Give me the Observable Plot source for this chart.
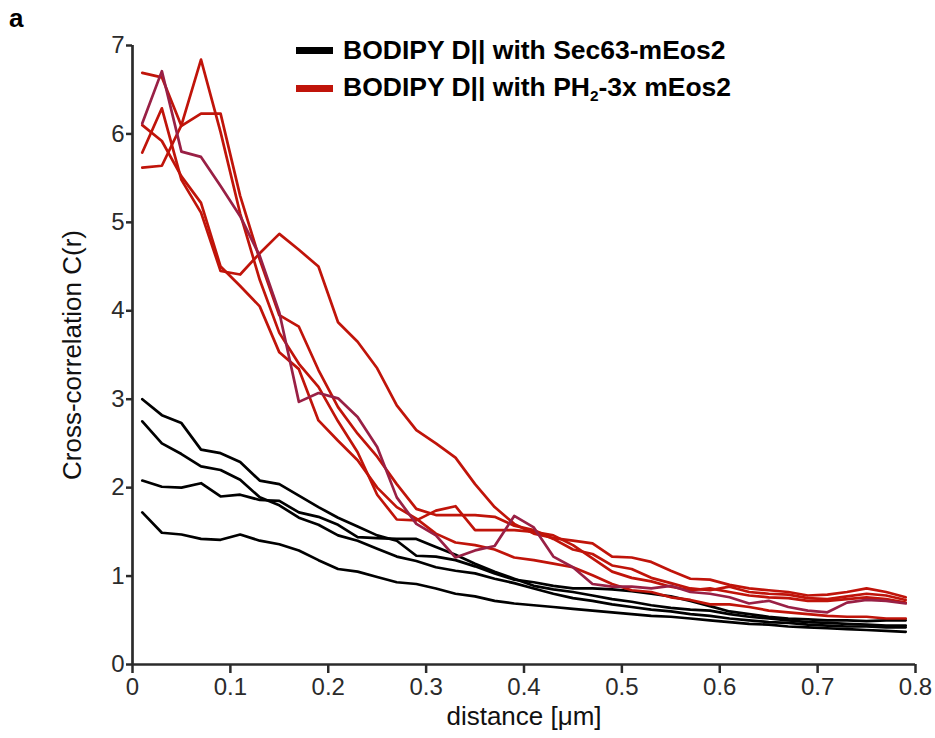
<!DOCTYPE html>
<html><head><meta charset="utf-8">
<script src="https://cdn.jsdelivr.net/npm/d3@7"></script>
<script src="https://cdn.jsdelivr.net/npm/@observablehq/plot@0.6"></script>
<style>
body{margin:0;background:#fff;}
#wrap{position:relative;width:935px;height:738px;font-family:"Liberation Sans",Arial,sans-serif;}
#panel{position:absolute;left:9px;top:3px;font-weight:bold;font-size:26px;color:#000;}
#legend{position:absolute;left:296px;top:31px;font-weight:bold;font-size:26.5px;color:#000;}
.row{display:flex;align-items:center;height:38px;white-space:nowrap;}
.sw{width:37px;height:7px;margin-right:10px;flex:none;}
sub{font-size:58%;vertical-align:-0.3em;}
</style></head>
<body><div id="wrap"><div id="chart"></div><div id="panel">a</div><div id="legend"></div></div>
<script>
// distance axis (µm)
const distance = [0.01,0.03,0.05,0.07,0.09,0.11,0.13,0.15,0.17,0.19,0.21,0.23,0.25,0.27,0.29,0.31,0.33,0.35,0.37,0.39,
                  0.41,0.43,0.45,0.47,0.49,0.51,0.53,0.55,0.57,0.59,0.61,0.63,0.65,0.67,0.69,0.71,0.73,0.75,0.77,0.79];

// BODIPY D|| with Sec63-mEos2 (black)
const sec63_a = [3.00,2.82,2.73,2.43,2.39,2.29,2.08,2.04,1.91,1.78,1.66,1.56,1.46,1.40,1.23,1.22,1.18,1.11,1.03,0.96,
                 0.93,0.89,0.86,0.86,0.85,0.83,0.80,0.77,0.72,0.66,0.60,0.57,0.54,0.52,0.51,0.50,0.50,0.49,0.50,0.50];
const sec63_b = [2.75,2.50,2.38,2.24,2.20,2.09,1.89,1.80,1.66,1.58,1.46,1.40,1.31,1.22,1.17,1.10,1.06,1.03,0.97,0.92,
                 0.86,0.80,0.75,0.72,0.68,0.65,0.62,0.60,0.57,0.55,0.52,0.50,0.48,0.47,0.45,0.44,0.43,0.43,0.42,0.42];
const sec63_c = [2.08,2.01,2.00,2.05,1.90,1.92,1.86,1.85,1.72,1.67,1.58,1.44,1.43,1.42,1.42,1.33,1.24,1.14,1.05,0.97,
                 0.89,0.85,0.82,0.78,0.74,0.71,0.67,0.64,0.62,0.61,0.57,0.54,0.52,0.50,0.48,0.47,0.46,0.45,0.44,0.44];
const sec63_d = [1.72,1.49,1.47,1.42,1.41,1.47,1.40,1.36,1.29,1.18,1.08,1.05,0.99,0.93,0.91,0.86,0.80,0.77,0.72,0.69,
                 0.67,0.65,0.63,0.61,0.59,0.57,0.55,0.54,0.52,0.50,0.48,0.46,0.45,0.43,0.42,0.41,0.40,0.39,0.38,0.37];

// BODIPY D|| with PH2-3x mEos2 (red; one trace in a darker purple-red)
const ph_a = [6.69,6.64,6.09,6.23,6.23,5.30,4.58,3.95,3.82,3.33,2.91,2.61,2.35,2.04,1.76,1.69,1.69,1.69,1.67,1.57,
              1.52,1.42,1.30,1.25,1.12,1.08,0.98,0.92,0.86,0.84,0.88,0.82,0.80,0.79,0.75,0.74,0.77,0.80,0.78,0.73];
const ph_b = [5.62,5.64,6.10,6.84,6.02,5.10,4.35,3.75,3.40,3.14,2.75,2.40,1.92,1.64,1.63,1.74,1.79,1.52,1.52,1.52,
              1.50,1.46,1.35,1.20,1.05,0.98,0.94,0.88,0.84,0.86,0.82,0.78,0.76,0.75,0.72,0.72,0.74,0.76,0.74,0.70];
const ph_c = [6.10,5.92,5.52,5.22,4.50,4.28,4.05,3.53,3.34,2.76,2.53,2.31,2.00,1.78,1.65,1.48,1.38,1.35,1.30,1.21,
              1.18,1.14,1.10,1.01,0.91,0.84,0.82,0.76,0.73,0.68,0.68,0.65,0.61,0.59,0.57,0.55,0.54,0.54,0.52,0.52];
const ph_d = [5.79,6.29,5.48,5.11,4.45,4.41,4.65,4.87,4.69,4.50,3.87,3.65,3.35,2.93,2.65,2.50,2.34,2.04,1.78,1.59,
              1.48,1.43,1.40,1.37,1.22,1.21,1.16,1.06,0.97,0.96,0.90,0.86,0.84,0.82,0.78,0.79,0.82,0.86,0.82,0.76];
const ph_e = [6.12,6.71,5.80,5.74,5.41,5.07,4.62,3.98,2.97,3.07,3.01,2.80,2.46,1.89,1.59,1.46,1.21,1.29,1.34,1.68,
              1.55,1.22,1.10,0.91,0.88,0.88,0.86,0.89,0.82,0.80,0.76,0.69,0.72,0.65,0.61,0.59,0.70,0.73,0.72,0.69];

const xTicks = [0,0.1,0.2,0.3,0.4,0.5,0.6,0.7,0.8];
const yTicks = [0,1,2,3,4,5,6,7];
const xLabel = "distance [μm]";
const yLabel = "Cross-correlation C(r)";
const legendLabels = ["BODIPY D|| with Sec63-mEos2", "BODIPY D|| with PH<sub>2</sub>-3x mEos2"];
const colors = {black:"#000000", red:"#c0140a", purple:"#992045"};

const series = [
  {id:"s1", kind:"black", v:sec63_a},{id:"s2", kind:"black", v:sec63_b},
  {id:"s3", kind:"black", v:sec63_c},{id:"s4", kind:"black", v:sec63_d},
  {id:"p1", kind:"red", v:ph_a},{id:"p2", kind:"red", v:ph_b},
  {id:"p3", kind:"red", v:ph_c},{id:"p4", kind:"red", v:ph_d},
  {id:"p5", kind:"purple", v:ph_e}
];
const rows = series.flatMap(s => s.v.map((y,i) => ({x:distance[i], y, id:s.id, kind:s.kind})));
const axisColor = "#2b2b2b";

const chart = Plot.plot({
  width:935, height:738,
  marginLeft:132, marginRight:20, marginTop:45, marginBottom:74,
  x:{domain:[0,0.8]},
  y:{domain:[0,7]},
  style:{fontFamily:'"Liberation Sans", Arial, sans-serif', fontSize:"24px", color:axisColor, background:"#fff"},
  marks:[
    Plot.axisY({ticks:yTicks, tickSize:6, tickPadding:2, strokeWidth:2.5,
      tickFormat:d => String(d), label:null, fill:axisColor}),
    Plot.axisX({ticks:xTicks, tickSize:9, tickPadding:4, strokeWidth:2.5,
      tickFormat:d => String(+d.toFixed(1)), label:null, fill:axisColor}),
    Plot.text([yLabel], {text:d => d, frameAnchor:"left", textAnchor:"middle", rotate:-90, dx:-60, fontSize:26, fill:"#111"}),
    Plot.text([xLabel], {text:d => d, frameAnchor:"bottom", textAnchor:"middle", dy:60, fontSize:26, fill:"#111"}),
    Plot.ruleX([0], {stroke:axisColor, strokeWidth:2.7}),
    Plot.ruleY([0], {stroke:axisColor, strokeWidth:2.7}),
    Plot.line(rows.filter(d => d.kind==="black"), {x:"x", y:"y", z:"id", stroke:colors.black, strokeWidth:2.7}),
    Plot.line(rows.filter(d => d.kind==="red"), {x:"x", y:"y", z:"id", stroke:colors.red, strokeWidth:2.7}),
    Plot.line(rows.filter(d => d.kind==="purple"), {x:"x", y:"y", z:"id", stroke:colors.purple, strokeWidth:2.7})
  ]
});
document.getElementById("chart").appendChild(chart);

const leg = document.getElementById("legend");
[[colors.black, legendLabels[0]],[colors.red, legendLabels[1]]].forEach(([c,t]) => {
  const r = document.createElement("div"); r.className = "row";
  r.innerHTML = `<span class="sw" style="background:${c}"></span><span>${t}</span>`;
  leg.appendChild(r);
});
</script>
</body></html>
